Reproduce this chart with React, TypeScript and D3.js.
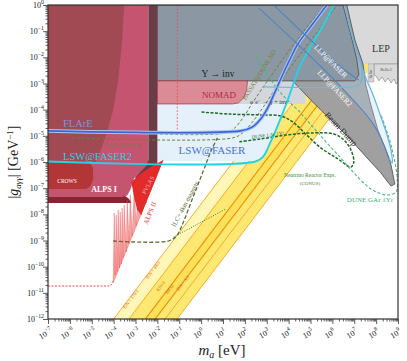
import React, { useEffect, useRef } from 'react';
import * as d3 from 'd3';

type Pt = [number, number];

const brownRegion: Pt[] = [[-7, 0], [-3.52, 0], [-3.61, -1.34], [-3.79, -2.87], [-4.02, -4.01], [-4.34, -4.97], [-4.66, -5.73], [-4.85, -6.04], [-7, -6.04]];
const pinkRegion: Pt[] = [[-7, 0], [-2.41, 0], [-2.41, -6.11], [-2.78, -6.54], [-3.06, -6.61], [-3.24, -7.07], [-3.38, -7.28], [-3.6, -7.34], [-7, -7.34]];
const baseBand: Pt[] = [[-7, -6.99], [-5.17, -6.99], [-5.03, -7.3], [-3.47, -7.3], [-3.29, -7.41], [-3.19, -7.57], [-7, -7.57]];
const crowsRegion: Pt[] = [[-7, -6.04], [-5.07, -6.04], [-4.94, -6.23], [-4.94, -6.69], [-5.07, -6.92], [-5.26, -7.03], [-7, -7.03]];
const maroonStrip: Pt[] = [[-2.41, 0], [-2.0, 0], [-2.0, -6.04], [-2.19, -6.23], [-2.32, -6.38], [-2.51, -6.5], [-2.69, -6.61], [-2.87, -6.69], [-3.01, -6.61], [-2.78, -6.38], [-2.51, -6.15], [-2.41, -5.92]];

const alpsIISolid: Pt[] = [[-3.19, -6.76], [-2.78, -6.46], [-2.23, -6.15], [-1.73, -5.92], [-2.09, -6.69], [-2.41, -7.34], [-2.74, -8.03], [-2.92, -7.83], [-3.06, -7.37]];
const alpsIISpikes: Pt[] = [[-4.02, -10.62], [-3.97, -7.95], [-3.93, -10.32], [-3.88, -8.03], [-3.84, -10.2], [-3.79, -7.83], [-3.74, -10.05], [-3.7, -7.91], [-3.65, -9.9], [-3.61, -7.76], [-3.56, -9.67], [-3.52, -7.64], [-3.42, -9.44], [-3.38, -7.45], [-3.29, -9.13], [-3.24, -7.26], [-3.15, -8.83], [-3.06, -7.07], [-2.97, -8.44], [-2.87, -6.88], [-2.74, -8.03], [-2.64, -6.69], [-2.51, -7.57], [-2.41, -6.5], [-2.28, -7.07], [-2.19, -6.31], [-2.05, -6.61], [-1.96, -6.11], [-1.73, -5.92]];
const alpsIIFlat: Pt[] = [[-7, -10.74], [-4.16, -10.74], [-4.07, -10.66], [-4.02, -10.55]];

const slateRegion: Pt[] = [[-2, 0], [6.48, 0], [6.85, -1.15], [7.12, -2.1], [7.21, -2.67], [7.03, -2.9], [-2, -2.9]];
const lepRegion: Pt[] = [[6.16, 0], [9.1, 0], [9.1, -2.25], [7.31, -2.25], [6.94, -1.53]];
const belle2Region: Pt[] = [[7.9, -2.25], [9.1, -2.25], [9.1, -2.87], [8.91, -3.02], [8.82, -2.83], [8.68, -2.98], [8.54, -2.79], [8.41, -2.94], [8.27, -2.75], [8.13, -2.9], [7.99, -2.71], [7.9, -2.67]];
const babarBox: Pt[] = [[7.63, -2.25], [7.9, -2.25], [7.9, -2.94], [7.63, -2.94]];
const smallYellow: Pt[] = [[7.35, -2.25], [7.63, -2.25], [7.63, -2.56], [7.42, -2.71]];
const eeGammaRegion: Pt[] = [[-2, -2.9], [4.78, -2.9], [4.78, -3.78], [-2, -3.78]];
const nomadRegion: Pt[] = [[-2, -2.9], [2.12, -2.9], [2.08, -3.25], [1.94, -3.55], [1.71, -3.74], [1.44, -3.78], [-2, -3.78]];
const lswRegion: Pt[] = [[-2, -2.9], [4.33, -2.9], [4.23, -2.98], [3.96, -3.63], [3.64, -4.32], [3.36, -4.89], [3.09, -5.39], [2.86, -5.77], [2.49, -5.96], [-2, -5.96]];
const beamDump: Pt[] = [[4.19, -2.9], [5.01, -3.63], [5.93, -4.39], [6.85, -5.16], [7.67, -5.92], [8.22, -6.42], [8.5, -6.73], [8.68, -6.92], [8.86, -6.84], [8.82, -6.69], [8.68, -6.11], [8.45, -5.54], [8.08, -4.78], [7.76, -3.82], [7.53, -3.06], [7.4, -2.25], [7.03, -1.34], [6.66, 0], [4.55, 0]];

const flareCurve: Pt[] = [[-7, -4.81], [1.8, -4.81], [2.35, -4.66], [2.72, -4.36], [3.04, -3.94], [3.36, -3.36], [3.68, -2.75], [4.05, -2.1], [4.42, -1.49], [4.92, -0.92], [5.47, -0.31], [5.75, 0]];
const lswFaser2Curve: Pt[] = [[-7, -5.98], [2.49, -5.98], [2.86, -5.77], [3.09, -5.39], [3.36, -4.89], [3.64, -4.32], [3.96, -3.63], [4.23, -2.98], [4.55, -2.29], [4.92, -1.72], [5.38, -1.07], [5.79, -0.46], [6.07, 0]];

const llpFaserLine: Pt[] = [[3.32, 0], [5.01, -1.34], [6.39, -2.37], [7.21, -2.87]];
const llpFaser2Line: Pt[] = [[2.63, -0.11], [4.69, -1.72], [6.53, -3.25], [7.9, -4.59], [8.59, -5.85]];
const llpFaser2Edge: Pt[] = [[8.59, -5.85], [8.73, -6.04], [8.68, -5.54], [8.5, -4.97], [8.22, -4.28], [7.86, -3.44], [7.53, -2.79], [7.21, -2.03], [6.85, -1.03], [6.57, 0]];
const llpFaser2Hook: Pt[] = [[2.81, -3.13], [6.85, -3.13], [7.21, -3.06], [7.35, -2.79], [7.31, -2.29], [7.21, -2.03]];

const passatIsdf: Pt[] = [[-5.9, -5.08], [1.44, -5.08], [1.89, -4.89], [2.35, -4.47], [2.81, -3.94], [3.27, -3.36], [3.77, -2.75], [4.33, -2.1], [4.92, -1.45], [5.56, -0.76], [6.21, 0]];
const passatDune: Pt[] = [[-3.24, -4.89], [1.12, -4.89], [1.53, -4.7], [1.94, -4.28], [2.35, -3.74], [2.81, -3.17], [3.32, -2.56], [3.87, -1.91], [4.46, -1.26], [5.1, -0.57], [5.7, 0]];
const ilcCurve: Pt[] = [[-4.02, -9.02], [-1.5, -9.02], [-1.13, -8.83], [-0.81, -8.29], [-0.49, -7.6], [-0.17, -6.92], [0.15, -6.23], [0.47, -5.54], [0.75, -5.08]];
const dottedLine: Pt[] = [[-1.27, -8.87], [1.12, -7.8]];
const redDashedLine: Pt[] = [[-1.09, 0], [-1.09, -4.97]];
const duneLAr: Pt[] = [[0.02, -4.09], [1.34, -4.17], [2.72, -4.2], [3.64, -4.24], [4.19, -4.47], [4.78, -4.93], [5.47, -5.46], [6.25, -5.88], [6.85, -6.19], [6.98, -6.0], [6.85, -5.54], [6.53, -5.16], [6.07, -4.93], [5.01, -4.89], [3.87, -4.97], [2.72, -5.12], [1.71, -5.23]];
const duneGAr: Pt[] = [[2.49, -1.91], [2.95, -2.56], [3.64, -3.36], [4.55, -4.13], [5.47, -5.01], [6.39, -5.85], [7.08, -6.5], [7.76, -7.03], [8.45, -7.26], [8.91, -7.15], [8.96, -6.61], [8.82, -5.85], [8.59, -5.08], [8.22, -4.2]];

// QCD axion lines: m_a where each line meets g = 1e-12 and g = 1e-3
const qcdBottomMa = [-4.0, -3.3, -2.55, -2.1, -1.65, -1.1];
const qcdTopMa = [4.18, 4.88, 5.63, 6.08, 6.53, 7.08];
const qcdG = [-12, -3];
const qcdStripColors = ['#fff7b8', '#fde871', '#fce25a', '#fde871', '#fde871'];
const qcdLabels = [
  { t: 'E/N = 170/3', at: [132, 300] },
  { t: 'E/N = 44/3', at: [154, 271] },
  { t: 'KSVZ', at: [162, 287] },
  { t: 'DFSZ', at: [171, 290] },
  { t: 'E/N = 5/3', at: [184, 284] },
];

const xMajor = d3.range(-7, 10);
const yMajor = d3.range(-12, 1);

const W = 407;
const H = 361;
const plot = { left: 48, right: 398, top: 5, bottom: 319 };
const serif = '"Liberation Serif", "DejaVu Serif", serif';

function minorTicks(lo: number, hi: number) {
  const v: number[] = [];
  for (let k = lo; k < hi; k++) for (let m = 2; m < 10; m++) v.push(m * 10 ** k);
  return v;
}

export default function App() {
  const axRef = useRef<SVGGElement>(null);

  const x = d3.scaleLog().domain([1e-7, 1e9]).range([plot.left, plot.right]);
  const y = d3.scaleLog().domain([1e-12, 1]).range([plot.bottom, plot.top]);
  const line = d3.line<Pt>().x(d => x(10 ** d[0])).y(d => y(10 ** d[1]));
  const smooth = d3.line<Pt>().x(d => x(10 ** d[0])).y(d => y(10 ** d[1])).curve(d3.curveCatmullRom.alpha(0.5));
  const poly = (p: Pt[]) => line(p) + 'Z';

  useEffect(() => {
    const g = d3.select(axRef.current);
    g.selectAll('*').remove();
    const xb = g.append('g').attr('transform', `translate(0,${plot.bottom})`);
    xb.append('g').call(d3.axisBottom(x).tickValues(minorTicks(-7, 9)).tickSize(2.5).tickFormat(() => ''));
    xb.append('g').call(d3.axisBottom(x).tickValues(xMajor.map(k => 10 ** k)).tickSize(5).tickFormat(() => ''));
    const yl = g.append('g').attr('transform', `translate(${plot.left},0)`);
    yl.append('g').call(d3.axisLeft(y).tickValues(minorTicks(-12, 0)).tickSize(2.5).tickFormat(() => ''));
    yl.append('g').call(d3.axisLeft(y).tickValues(yMajor.map(k => 10 ** k)).tickSize(5).tickFormat(() => ''));
    g.selectAll('.domain').remove();
    g.selectAll('line').attr('stroke', '#333').attr('stroke-width', 0.8);
  }, []);

  const strips = qcdStripColors.map((c, i) => {
    const pts: Pt[] = [
      [qcdBottomMa[i], qcdG[0]], [qcdTopMa[i], qcdG[1]],
      [qcdTopMa[i + 1], qcdG[1]], [qcdBottomMa[i + 1], qcdG[0]],
    ];
    return <path key={'s' + i} d={poly(pts)} fill={c} />;
  });
  const qcdLines = qcdBottomMa.map((b, i) => (
    <path key={'l' + i} d={line([[b, qcdG[0]], [qcdTopMa[i], qcdG[1]]]) || ''}
      stroke={i === 2 || i === 3 ? '#f08c00' : '#f7a21b'} strokeWidth={i === 2 || i === 3 ? 1.2 : 0.9} fill="none" />
  ));

  return (
    <svg width={W} height={H} style={{ position: 'absolute', left: 0, top: 0, background: '#fff' }} fontFamily={serif}>
      <defs>
        <clipPath id="plotClip">
          <rect x={plot.left} y={plot.top} width={plot.right - plot.left} height={plot.bottom - plot.top} />
        </clipPath>
      </defs>

      <g clipPath="url(#plotClip)">
        <path d={poly(lepRegion)} fill="#d9d9d9" />
        <path d={poly(belle2Region)} fill="#dadada" stroke="#666" strokeWidth={0.5} />
        <path d={poly(babarBox)} fill="#d4d4d4" stroke="#888" strokeWidth={0.4} />
        <path d={poly(smallYellow)} fill="#f8e27c" />

        {strips}
        {qcdLines}

        <path d={poly(lswRegion)} fill="#e4f1fb" />
        <path d={poly(eeGammaRegion)} fill="#d3d7db" />
        <path d={poly(beamDump)} fill="#a0a0a0" stroke="#4a4a4a" strokeWidth={0.8} />
        <path d={poly([...llpFaser2Line, ...llpFaser2Edge.slice(1)])} fill="#bcdcf2" fillOpacity={0.3} />
        <path d={poly(slateRegion)} fill="#8b98a3" stroke="#555" strokeWidth={0.9} />
        <path d={poly(nomadRegion)} fill="#da8b95" stroke="#b2404f" strokeWidth={0.8} />

        <path d={poly(baseBand)} fill="#862633" />
        <path d={poly(pinkRegion)} fill="#c4546f" />
        <path d={poly(brownRegion)} fill="#a24a54" />
        <path d={poly(crowsRegion)} fill="#b23636" />
        <path d={poly(maroonStrip)} fill="#6c3b48" />

        <path d={poly(alpsIISpikes)} fill="#e83a3a" fillOpacity={0.45} stroke="#e83a3a" strokeOpacity={0.8} strokeWidth={0.4} />
        <path d={poly(alpsIISolid)} fill="#e32b2b" />
        <path d={line(alpsIIFlat) || ''} fill="none" stroke="#e53935" strokeWidth={0.9} strokeDasharray="2,1.5" />

        <path d={line(redDashedLine) || ''} fill="none" stroke="#e04a4a" strokeWidth={0.7} strokeDasharray="2,1.5" />
        <path d={smooth(passatIsdf) || ''} fill="none" stroke="#6f7d3c" strokeWidth={1} strokeDasharray="3,2" />
        <path d={smooth(passatDune) || ''} fill="none" stroke="#6f7d3c" strokeWidth={1} strokeDasharray="3,2" />
        <path d={smooth(ilcCurve) || ''} fill="none" stroke="#5e6e32" strokeWidth={1.3} strokeDasharray="4,2" />
        <path d={line(dottedLine) || ''} fill="none" stroke="#3f7f2f" strokeWidth={1} strokeDasharray="1,1.5" />
        <path d={smooth(duneLAr) || ''} fill="none" stroke="#1d6b24" strokeWidth={1.5} strokeDasharray="3,1.5" />
        <path d={smooth(duneGAr) || ''} fill="none" stroke="#45b97c" strokeWidth={1.1} strokeDasharray="3,2" />

        <path d={smooth(flareCurve) || ''} fill="none" stroke="#a9c8f0" strokeWidth={3.6} />
        <path d={smooth(flareCurve) || ''} fill="none" stroke="#3d63d6" strokeWidth={1.6} />
        <path d={smooth(lswFaser2Curve) || ''} fill="none" stroke="#22d3e6" strokeWidth={1.9} />

        <path d={smooth(llpFaserLine) || ''} fill="none" stroke="#4e86bf" strokeWidth={1.1} />
        <path d={smooth(llpFaser2Line) || ''} fill="none" stroke="#4e86bf" strokeWidth={1.1} />
        <path d={smooth(llpFaser2Edge) || ''} fill="none" stroke="#6cb6e8" strokeWidth={1.3} />
        <path d={smooth(llpFaser2Hook) || ''} fill="none" stroke="#6cb6e8" strokeWidth={1.3} />
      </g>

      {/* region labels */}
      <text x={63} y={127} fontSize={10.5} fill="#7397dd">FLArE</text>
      <text x={63} y={160} fontSize={10.5} fill="#29cfe3">LSW@FASER2</text>
      <text x={212} y={154} fontSize={11} fill="#4a72d9" textAnchor="middle">LSW@FASER</text>
      <text x={105} y={147} fontSize={5.5} fill="#7a7a4a">PASSAT@ISDF</text>
      <text x={219} y={98} fontSize={9} fill="#b2253f" textAnchor="middle">NOMAD</text>
      <text x={218} y={77} fontSize={9.5} fill="#222" textAnchor="middle">Υ → inv</text>
      <text x={250} y={104} fontSize={6.2} fill="#444">e<tspan dy={-2.5} fontSize={4.5}>+</tspan><tspan dy={2.5}>e</tspan><tspan dy={-2.5} fontSize={4.5}>−</tspan><tspan dy={2.5}> → γ + inv</tspan></text>
      <text x={381} y={52} fontSize={10} fill="#333" textAnchor="middle">LEP</text>
      <text x={0} y={0} fontSize={3.6} fill="#555" textAnchor="middle" transform="translate(371.5,74) rotate(-90)">BaBar</text>
      <text x={386} y={71} fontSize={4.5} fill="#555" textAnchor="middle">Belle2</text>
      <text x={67} y={183} fontSize={5.5} fill="#fff" textAnchor="middle">CROWS</text>
      <text x={104} y={192} fontSize={8} fill="#fff" fontWeight="bold" textAnchor="middle">ALPS I</text>
      <text fontSize={6} fill="#f4b8c4" textAnchor="middle" transform="translate(150,186) rotate(-62)">PVLAS</text>
      <text fontSize={7} fill="#e8312f" textAnchor="middle" transform="translate(152,214) rotate(-68)">ALPS II</text>
      <text fontSize={6.5} fill="#5d6b35" textAnchor="middle" transform="translate(187,205) rotate(-62)">ILC+ 4km magnets</text>
      <text fontSize={6.5} fill="#7a7a3a" textAnchor="middle" transform="translate(261,76) rotate(-58)">PASSAT@DUNE ND</text>
      <text fontSize={5} fill="#1f6b1f" transform="translate(252,139) rotate(-8)">DUNE LAr 1Yr</text>
      <text fontSize={8.5} fill="#2a2a2a" textAnchor="middle" transform="translate(339,131) rotate(47)">Beam Dump</text>
      <text fontSize={7.5} fill="#fff" textAnchor="middle" transform="translate(329,63) rotate(45)">LLP@FASER</text>
      <text fontSize={7.5} fill="#fff" textAnchor="middle" transform="translate(333,90) rotate(47)">LLP@FASER2</text>
      <text x={310} y={177} fontSize={5.5} fill="#3b8a2a" textAnchor="middle">Neutrino Reactor Exps.</text>
      <text x={310} y={185} fontSize={5} fill="#3b8a2a" textAnchor="middle">(CONUS)</text>
      <text x={370} y={202} fontSize={7} fill="#3cb371" textAnchor="middle">DUNE GAr 1Yr</text>
      {qcdLabels.map(l => (
        <text key={l.t} fontSize={4.5} fill="#e0561c" textAnchor="middle" transform={`translate(${l.at[0]},${l.at[1]}) rotate(-53)`}>{l.t}</text>
      ))}

      {/* frame and axes */}
      <rect x={plot.left} y={plot.top} width={plot.right - plot.left} height={plot.bottom - plot.top} fill="none" stroke="#333" strokeWidth={1.2} />
      <g ref={axRef} />
      {xMajor.map(k => (
        <text key={'xl' + k} fontSize={8} fill="#222" textAnchor="middle" transform={`translate(${x(10 ** k) - 1},${336}) rotate(-30)`}>
          10<tspan dy={-4} fontSize={5.8}>{k < 0 ? '−' + -k : k}</tspan>
        </text>
      ))}
      {yMajor.map(k => (
        <text key={'yl' + k} x={44} y={y(10 ** k) + 3} fontSize={8} fill="#222" textAnchor="end">
          10<tspan dy={-4} fontSize={5.8}>{k < 0 ? '−' + -k : k}</tspan>
        </text>
      ))}
      <text x={222} y={355} fontSize={15} fill="#222" textAnchor="middle">
        <tspan fontStyle="italic">m</tspan><tspan fontStyle="italic" fontSize={10} dy={3}>a</tspan><tspan dy={-3}> [eV]</tspan>
      </text>
      <text fontSize={14} fill="#222" textAnchor="middle" transform="translate(18,162) rotate(-90)">
        |<tspan fontStyle="italic">g</tspan><tspan fontStyle="italic" fontSize={9} dy={3}>aγγ</tspan><tspan dy={-3}>| [GeV</tspan><tspan fontSize={9} dy={-5}>−1</tspan><tspan dy={5}>]</tspan>
      </text>
    </svg>
  );
}
